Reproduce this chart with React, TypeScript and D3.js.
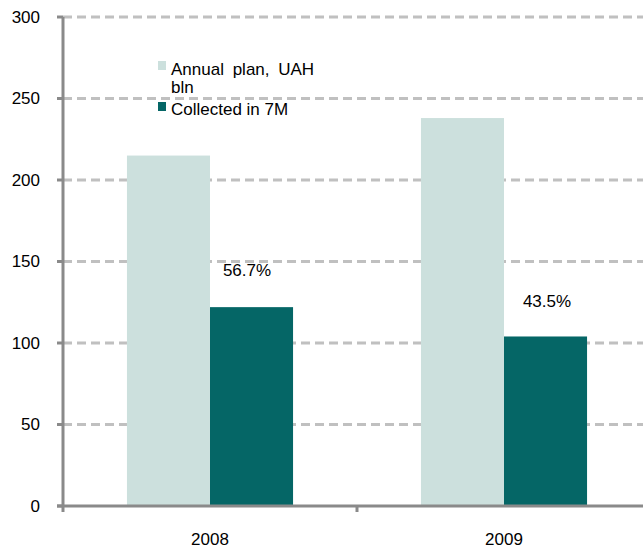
import React from "react";
import * as d3 from "d3";

const categories = ["2008", "2009"];
const annualPlan = [215, 238];
const collected = [122, 104];
const shareLabels = ["56.7%", "43.5%"];
const yTicks = [0, 50, 100, 150, 200, 250, 300];
const seriesNames = ["Annual plan, UAH bln", "Collected in 7M"];
const colors = ["#cce0dd", "#056666"];

export default function App() {
  const W = 643, H = 548;
  const x0 = 63, x1 = 651, yTop = 17, yBot = 506;
  const y = d3.scaleLinear().domain([0, 300]).range([yBot, yTop]);
  const xb = d3.scaleBand().domain(categories).range([x0, x1]).paddingInner(0).paddingOuter(0);
  const inner = d3.scaleBand().domain(["a", "b"]).range([0, xb.bandwidth()]).paddingOuter(0.77).paddingInner(0);
  const font = "Liberation Sans, Arial, sans-serif";
  const fs = 17;
  return (
    <svg width={W} height={H} style={{ position: "absolute", left: 0, top: 0 }} fontFamily={font}>
      <rect width={W} height={H} fill="#fff" />
      {yTicks.filter((t) => t > 0).map((t) => (
        <line key={t} x1={x0} x2={W} y1={y(t)} y2={y(t)} stroke="#c0c0c0" strokeWidth={3} strokeDasharray="9,5" />
      ))}
      {categories.map((c, i) => (
        <g key={c}>
          <rect x={xb(c)! + inner("a")!} y={y(annualPlan[i])} width={inner.bandwidth()} height={yBot - y(annualPlan[i])} fill={colors[0]} />
          <rect x={xb(c)! + inner("b")!} y={y(collected[i])} width={inner.bandwidth()} height={yBot - y(collected[i])} fill={colors[1]} />
        </g>
      ))}
      <line x1={x0} x2={x0} y1={yTop} y2={yBot} stroke="#8a8a8a" strokeWidth={3} />
      <line x1={57} x2={W} y1={yBot} y2={yBot} stroke="#8a8a8a" strokeWidth={3} />
      {yTicks.map((t) => (
        <g key={t}>
          <line x1={57} x2={x0} y1={y(t)} y2={y(t)} stroke="#8a8a8a" strokeWidth={3} />
          <text x={40} y={y(t)} dy="0.35em" textAnchor="end" fontSize={fs} fill="#000">{t}</text>
        </g>
      ))}
      {[x0, x0 + xb.bandwidth()].map((xx, i) => (
        <line key={i} x1={xx} x2={xx} y1={yBot} y2={512} stroke="#8a8a8a" strokeWidth={3} />
      ))}
      {categories.map((c) => (
        <text key={c} x={xb(c)! + xb.bandwidth() / 2} y={545} textAnchor="middle" fontSize={fs} fill="#000">{c}</text>
      ))}
      <text x={247} y={276} textAnchor="middle" fontSize={fs} fill="#000">{shareLabels[0]}</text>
      <text x={547} y={307} textAnchor="middle" fontSize={fs} fill="#000">{shareLabels[1]}</text>
      <rect x={158} y={61} width={8} height={9} fill={colors[0]} />
      <text x={171} y={75} fontSize={fs} fill="#000" wordSpacing={4}>Annual plan, UAH</text>
      <text x={171} y={93} fontSize={fs} fill="#000">bln</text>
      <rect x={158} y={102} width={8} height={9} fill={colors[1]} />
      <text x={171} y={115} fontSize={fs} fill="#000">{seriesNames[1]}</text>
    </svg>
  );
}
